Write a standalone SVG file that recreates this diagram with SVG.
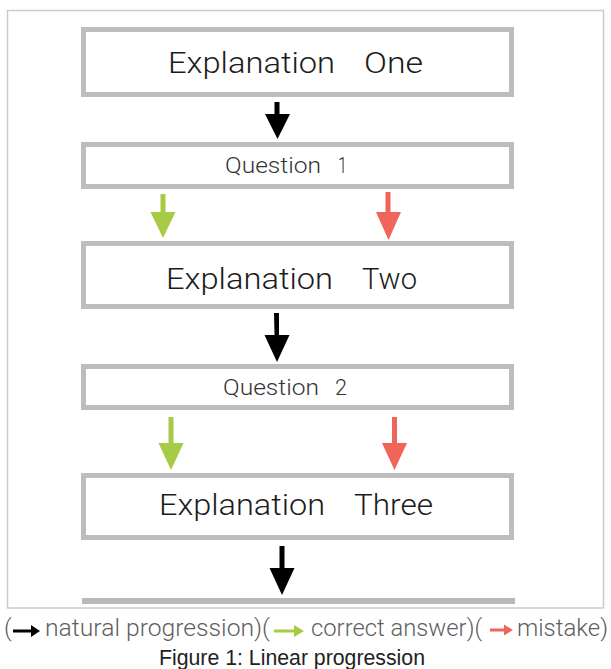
<svg xmlns="http://www.w3.org/2000/svg" width="611" height="669" viewBox="0 0 611 669">
<style>
.frame{fill:#fff;stroke:#cbcbcb;stroke-width:1.5}
.box{fill:#fff;stroke:#bdbdbd;stroke-width:5}
.big{font-family:Roboto,"Liberation Sans",Arial,sans-serif;font-weight:300;font-size:30px;fill:#1c1c1c}
.q{font-family:Roboto,"Liberation Sans",Arial,sans-serif;font-weight:300;font-size:22px;fill:#333}
.leg{font-family:Roboto,"Liberation Sans",Arial,sans-serif;font-weight:300;font-size:24px;fill:#5e5e5e}
.cap{font-family:"Liberation Sans",Arial,sans-serif;font-size:22px;fill:#222}
.blk{fill:#000}
.grn{fill:#a6cc45}
.red{fill:#f0645a}
</style>
<rect width="611" height="669" fill="#fff"/>
<rect class="frame" x="7.5" y="10.5" width="596" height="597.5"/>

<g id="explanation-one">
<rect class="box" x="83.5" y="29.5" width="428" height="65"/>
<text class="big" y="73"><tspan x="168" textLength="167" lengthAdjust="spacingAndGlyphs">Explanation</tspan><tspan x="364" textLength="59" lengthAdjust="spacingAndGlyphs">One</tspan></text>
</g>
<g id="question-1">
<rect class="box" x="83.5" y="144.5" width="428" height="42"/>
<text class="q" y="173"><tspan x="225" textLength="96" lengthAdjust="spacingAndGlyphs">Question</tspan><tspan x="338" textLength="9" lengthAdjust="spacingAndGlyphs">1</tspan></text>
</g>
<g id="explanation-two">
<rect class="box" x="83.5" y="243.5" width="428" height="63"/>
<text class="big" y="289"><tspan x="166" textLength="167" lengthAdjust="spacingAndGlyphs">Explanation</tspan><tspan x="362" textLength="55" lengthAdjust="spacingAndGlyphs">Two</tspan></text>
</g>
<g id="question-2">
<rect class="box" x="83.5" y="366.5" width="428" height="41"/>
<text class="q" y="395"><tspan x="223" textLength="96" lengthAdjust="spacingAndGlyphs">Question</tspan><tspan x="335" textLength="12" lengthAdjust="spacingAndGlyphs">2</tspan></text>
</g>
<g id="explanation-three">
<rect class="box" x="83.5" y="475.5" width="428" height="62"/>
<text class="big" y="515"><tspan x="159" textLength="166" lengthAdjust="spacingAndGlyphs">Explanation</tspan><tspan x="354" textLength="79" lengthAdjust="spacingAndGlyphs">Three</tspan></text>
</g>
<g id="end-bar">
<rect x="82" y="598" width="433" height="6" fill="#b9b9b9"/>
</g>

<g id="connectors">
<path class="blk" d="M274.5 102h5v12h10.5l-12.5 25l-12.5-25h9.5z"/>
<path class="grn" d="M160.5 194h5v18h10l-12.5 26l-12.5-26h10z"/>
<path class="red" d="M385.5 192h5v20h10.5l-12.5 28l-12.5-28h9.5z"/>
<path class="blk" d="M274 313h5v22h10.5l-12.5 27l-12.5-27h10z"/>
<path class="grn" d="M168.5 417h5v26h10l-12.5 27l-12.5-27h10z"/>
<path class="red" d="M392 417h5v26h10l-12.5 27l-12.5-27h10z"/>
<path class="blk" d="M279.5 546h5v22h10l-12.5 27l-12.5-27h10z"/>
</g>

<g id="legend">
<text class="leg" x="4" y="636">(</text>
<path class="blk" d="M13 629.5h18v-4.5l9 6l-9 6v-4.5h-18z"/>
<text class="leg" x="45" y="636" textLength="225" lengthAdjust="spacingAndGlyphs">natural progression)(</text>
<path class="grn" d="M274 629.5h20v-4.5l10 6l-10 6v-4.5h-20z"/>
<text class="leg" x="311" y="636" textLength="171" lengthAdjust="spacingAndGlyphs">correct answer)(</text>
<path class="red" d="M490 628.5h14v-4l9 5.5l-9 5.5v-4h-14z"/>
<text class="leg" x="517" y="636" textLength="91" lengthAdjust="spacingAndGlyphs">mistake)</text>
</g>
<text class="cap" x="292" y="665" text-anchor="middle" textLength="266" lengthAdjust="spacingAndGlyphs">Figure 1: Linear progression</text>
</svg>
